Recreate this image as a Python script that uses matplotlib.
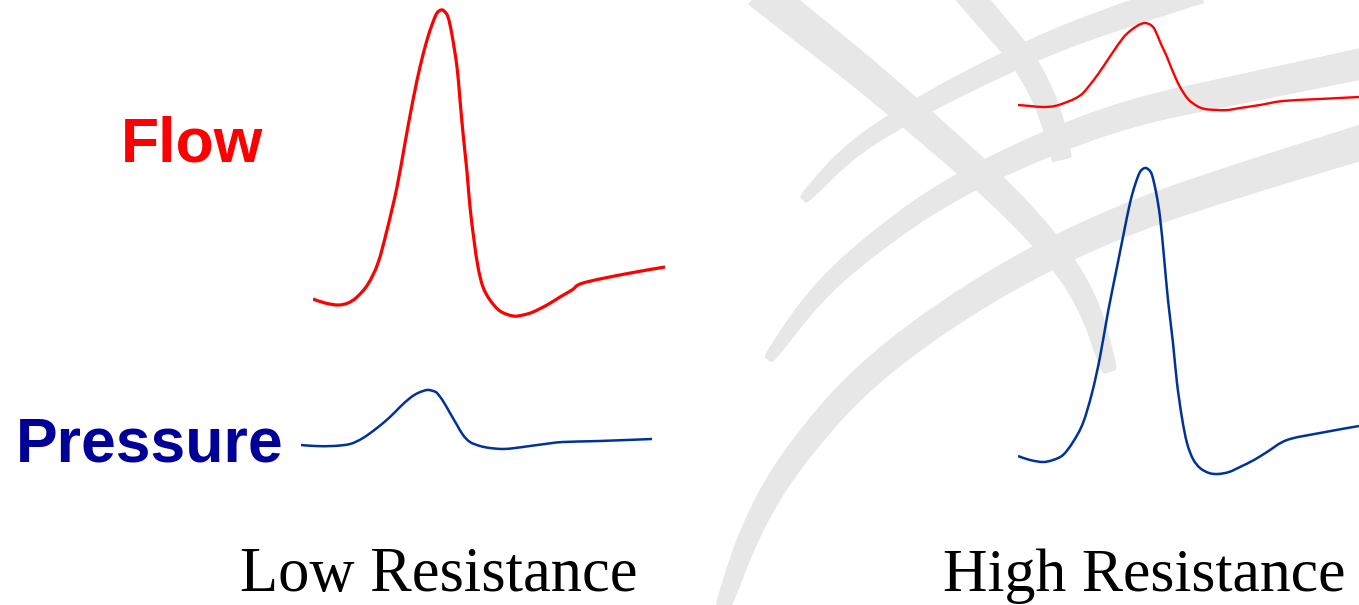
import numpy as np
import matplotlib
matplotlib.use("Agg")
import matplotlib.pyplot as plt
from matplotlib.patches import Polygon, PathPatch
from matplotlib.path import Path

# ---------------- data ----------------
# Low resistance – flow waveform (time units, amplitude units)
low_flow_t = [0, 12, 25, 35, 44, 55, 65, 74, 84, 92, 100, 107, 114, 120, 124, 128, 131, 135, 139, 144,
              147, 150, 154, 157, 161, 165, 170, 177, 187, 200, 210, 220, 234, 247, 259, 270, 312, 352]
low_flow_v = [21, 17, 15, 17, 23, 36, 57, 90, 133, 177, 220, 253, 280, 298, 307, 310, 309, 303, 285, 253,
              220, 187, 148, 113, 80, 53, 33, 20, 9, 4, 5, 8, 15, 23, 30, 37, 46, 53]

# Low resistance – pressure waveform
low_pres_t = [0, 14, 32, 49, 62, 76, 89, 99, 109, 117, 126, 132, 136, 142, 149, 156, 162, 169, 179, 189,
              202, 214, 229, 244, 262, 299, 351]
low_pres_v = [10, 9, 9, 11, 17, 27, 38, 48, 57, 62, 65, 64, 62, 54, 42, 30, 20, 13, 9, 7,
              6, 7, 9, 11, 13, 14, 16]

# High resistance – flow waveform
high_flow_t = [0, 12, 25, 37, 49, 58, 65, 75, 85, 95, 105, 112, 119, 123, 127, 131, 134, 137, 143, 149,
               155, 162, 170, 179, 187, 199, 210, 222, 242, 265, 302, 341]
high_flow_v = [10, 9, 8, 9, 13, 17, 22, 34, 48, 63, 77, 84, 89, 91, 92, 91, 89, 85, 71, 58,
               43, 28, 16, 9, 6, 5, 5, 7, 10, 14, 16, 18]

# High resistance – pressure waveform
high_pres_t = [0, 12, 25, 35, 45, 55, 65, 74, 82, 90, 99, 106, 112, 117, 122, 127, 131, 134, 138, 142,
               146, 150, 155, 159, 164, 169, 175, 182, 191, 200, 211, 222, 236, 249, 269, 302, 341]
high_pres_v = [24, 20, 18, 20, 25, 38, 57, 87, 123, 168, 213, 248, 277, 295, 308, 312, 310, 305, 288, 263,
               223, 180, 137, 97, 62, 37, 21, 12, 7, 6, 8, 13, 20, 28, 40, 47, 54]

row_labels = ["Flow", "Pressure"]
panel_titles = ["Low Resistance", "High Resistance"]

# ---------------- figure ----------------
W, H = 1359, 605
fig = plt.figure(figsize=(W / 100, H / 100), dpi=100)
fig.patch.set_facecolor("white")

bg = fig.add_axes([0, 0, 1, 1])
bg.set_xlim(0, W)
bg.set_ylim(H, 0)
bg.axis("off")

# faint watermark (decoration)
WM = "#e7e7e7"


def band(pts, w0, w1):
    pts = np.asarray(pts, float)
    for _ in range(4):
        q = 0.75 * pts[:-1] + 0.25 * pts[1:]
        r = 0.25 * pts[:-1] + 0.75 * pts[1:]
        new = [pts[0]]
        for a, b in zip(q, r):
            new += [a, b]
        new.append(pts[-1])
        pts = np.array(new)
    d = np.gradient(pts, axis=0)
    n = np.stack([-d[:, 1], d[:, 0]], axis=1)
    n /= np.linalg.norm(n, axis=1, keepdims=True)
    s = np.linspace(0, 1, len(pts))
    w = (w0 + (w1 - w0) * np.sqrt(s)) / 2
    left = pts + n * w[:, None]
    right = pts - n * w[:, None]
    poly = np.vstack([left, right[::-1]])
    bg.add_patch(Polygon(poly, closed=True, facecolor=WM, edgecolor="none", zorder=0))


band([(803, 200), (850, 150), (910, 112), (980, 75), (1060, 38), (1140, 10), (1200, -10)], 6, 28)
band([(768, 360), (815, 295), (868, 247), (940, 195), (1030, 150), (1130, 112), (1246, 88), (1370, 62)], 6, 32)
band([(722, 610), (750, 530), (790, 460), (868, 370), (994, 282), (1120, 220), (1246, 178), (1370, 140)], 10, 36)
band([(1110, 372), (1088, 300), (1050, 245), (1000, 192), (930, 130), (860, 70), (790, 15), (760, -10)], 10, 38)
band([(1062, 160), (1050, 110), (1025, 60), (990, 20), (965, -10)], 18, 28)

# ---------------- waveforms ----------------
RED = "#ff0000"
BLUE = "#003399"


def smooth_path(t, v):
    """Catmull-Rom spline through the read points, expressed as cubic Bezier segments."""
    p = np.column_stack([t, v]).astype(float)
    verts = [p[0]]
    codes = [Path.MOVETO]
    n = len(p)
    for i in range(n - 1):
        p0 = p[i - 1] if i > 0 else p[i]
        p1, p2 = p[i], p[i + 1]
        p3 = p[i + 2] if i + 2 < n else p[i + 1]
        c1 = p1 + (p2 - p0) / 6.0
        c2 = p2 - (p3 - p1) / 6.0
        verts += [c1, c2, p2]
        codes += [Path.CURVE4] * 3
    return Path(verts, codes)


def trace(x0, base, t, v, color, lw):
    width = max(t) + 4
    ax = fig.add_axes([x0 / W, 1 - base / H, width / W, base / H])
    ax.set_xlim(0, width)
    ax.set_ylim(0, base)
    ax.axis("off")
    ax.patch.set_alpha(0)
    ax.add_patch(PathPatch(smooth_path(t, v), facecolor="none", edgecolor=color, lw=lw,
                           capstyle="butt", joinstyle="round"))


trace(313, 320, low_flow_t, low_flow_v, RED, 2.3)
trace(301, 455, low_pres_t, low_pres_v, BLUE, 1.8)
trace(1018, 115, high_flow_t, high_flow_v, RED, 1.7)
trace(1018, 480, high_pres_t, high_pres_v, BLUE, 1.8)

# ---------------- text ----------------
bg.text(121, 162, row_labels[0], color=RED, fontsize=45, fontweight="bold",
        family="Liberation Sans", ha="left", va="baseline")
bg.text(16, 462, row_labels[1], color="#000099", fontsize=45, fontweight="bold",
        family="Liberation Sans", ha="left", va="baseline")
bg.text(240, 591, panel_titles[0], color="black", fontsize=45,
        family="Liberation Serif", ha="left", va="baseline")
bg.text(943, 591, panel_titles[1], color="black", fontsize=44.5,
        family="Liberation Serif", ha="left", va="baseline")

fig.savefig("out.png", dpi=100, facecolor="white")
